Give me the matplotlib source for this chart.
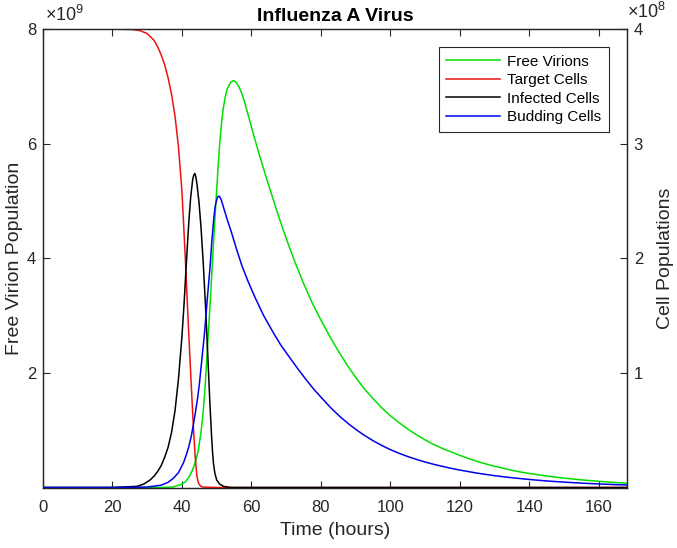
import matplotlib
matplotlib.use("Agg")
import matplotlib.pyplot as plt

plt.rcParams['font.family'] = ['Liberation Sans', 'DejaVu Sans']
plt.rcParams['mathtext.fontset'] = 'custom'
plt.rcParams['mathtext.rm'] = 'Liberation Sans'

# ---- data ----
# Free virions (units of 1e9), left axis
t_virions = [0, 20, 30, 35, 37.5, 40, 41, 42, 43, 43.6, 44.2, 44.7, 45.2, 45.6, 46,
             46.6, 47.2, 48.0, 48.7, 49.3, 49.8, 50.3, 50.8, 51.3, 51.8, 52.4, 53,
             54, 54.8, 55.6, 56.5, 57.3, 58, 59.6, 61, 62.4, 64, 65.5, 67.3, 69,
             71.1, 73, 75, 77.5, 80, 82.5, 85, 87.5, 90, 92.5, 95, 97.5, 100, 102.5,
             105, 107.5, 110, 112.5, 115, 117.5, 120, 122.5, 125, 127.5, 130, 132.5,
             135, 137.5, 140, 145, 150, 155, 160, 164, 168]
virions = [0, 0, 0.0, 0.002, 0.01, 0.06, 0.1, 0.18, 0.3, 0.4, 0.52, 0.65, 0.85, 1.03,
           1.25, 1.7, 2.3, 3.1, 3.85, 4.5, 5.0, 5.5, 5.95, 6.3, 6.58, 6.8, 6.95,
           7.07, 7.10, 7.07, 6.98, 6.86, 6.73, 6.38, 6.07, 5.78, 5.46, 5.17, 4.83,
           4.52, 4.16, 3.86, 3.56, 3.22, 2.92, 2.64, 2.38, 2.14, 1.92, 1.72, 1.55,
           1.39, 1.25, 1.13, 1.02, 0.92, 0.83, 0.75, 0.68, 0.62, 0.56, 0.505, 0.455,
           0.41, 0.37, 0.335, 0.30, 0.27, 0.245, 0.20, 0.163, 0.133, 0.108, 0.09,
           0.075]

# Target cells (units of 1e8), right axis
t_target = [0, 20, 26, 28, 30, 32, 33, 34, 35, 36, 37, 38, 39, 40, 40.9, 41.8, 42.5,
            43.3, 43.8, 44.3, 44.7, 45, 45.5, 46, 50, 168]
target = [4.0, 4.0, 3.995, 3.985, 3.96, 3.9, 3.845, 3.775, 3.69, 3.575, 3.43, 3.24,
          2.97, 2.58, 2.04, 1.44, 1.0, 0.52, 0.27, 0.1, 0.045, 0.025, 0.01, 0.004,
          0, 0]

# Infected cells (units of 1e8), right axis
t_infected = [0, 20, 27, 29, 30.8, 32, 33, 34, 35.1, 36, 37, 38, 39, 40, 40.6, 41.1,
              41.6, 42.0, 42.5, 43.1, 43.4, 43.7, 44.0, 44.3, 44.9, 45.5, 46.1, 46.8,
              47.4, 48.0, 48.5, 48.8, 49.1, 49.5, 50.0, 50.9, 52, 54, 168]
infected = [0, 0.0, 0.01, 0.03, 0.065, 0.10, 0.14, 0.19, 0.27, 0.35, 0.48, 0.67, 0.95,
            1.32, 1.6, 1.87, 2.13, 2.33, 2.53, 2.69, 2.725, 2.74, 2.71, 2.65, 2.49,
            2.26, 1.97, 1.57, 1.17, 0.76, 0.46, 0.31, 0.2, 0.12, 0.065, 0.028, 0.01,
            0, 0]

# Budding cells (units of 1e8), right axis
t_budding = [0, 20, 30, 34, 36, 37.5, 39, 40.5, 41.3, 42, 42.7, 43.3, 43.9, 44.5, 45,
             45.5, 46, 46.5, 47.3, 48.1, 48.6, 49.2, 49.6, 50.0, 50.4, 50.8, 51.3,
             52, 53, 54.3, 55.7, 57.2, 59, 61, 63.5, 66.3, 68.5, 71.1, 73, 75.5,
             78, 80.7, 83, 85.5, 88, 90.3, 92.5, 95, 97.5, 100, 102.5, 105, 107.5,
             110, 112.5, 115, 117.5, 120, 125, 130, 135, 140, 145, 150, 155, 160,
             164, 168]
budding = [0, 0, 0.004, 0.02, 0.045, 0.08, 0.13, 0.22, 0.29, 0.36, 0.45, 0.55, 0.66,
           0.78, 0.9, 1.05, 1.2, 1.35, 1.65, 1.93, 2.15, 2.36, 2.46, 2.51, 2.54, 2.54,
           2.51, 2.44, 2.34, 2.22, 2.08, 1.94, 1.80, 1.66, 1.50, 1.35, 1.24, 1.13,
           1.05, 0.95, 0.855, 0.765, 0.69, 0.618, 0.554, 0.501, 0.455, 0.408, 0.367,
           0.33, 0.298, 0.27, 0.245, 0.222, 0.202, 0.184, 0.167, 0.152, 0.125,
           0.103, 0.085, 0.07, 0.057, 0.047, 0.038, 0.031, 0.026, 0.022]

x_ticks = [0, 20, 40, 60, 80, 100, 120, 140, 160]
left_ticks = [2, 4, 6, 8]
right_ticks = [1, 2, 3, 4]

labels = ['Free Virions', 'Target Cells', 'Infected Cells', 'Budding Cells']
colors = ['#00e000', '#ee1111', '#000000', '#0000ee']

axcol = '#262626'

fig = plt.figure(figsize=(6.77, 5.48), dpi=100)
ax = fig.add_axes([0.0635, 0.1104, 0.8622, 0.8367])
ax2 = ax.twinx()

lw = 1.1
l1, = ax.plot(t_virions, [v * 1e9 for v in virions], color=colors[0], lw=lw)
l2, = ax2.plot(t_target, [c * 1e8 for c in target], color=colors[1], lw=lw)
l3, = ax2.plot(t_infected, [c * 1e8 for c in infected], color=colors[2], lw=lw)
l4, = ax2.plot(t_budding, [c * 1e8 for c in budding], color=colors[3], lw=lw)

ax.set_xlim(0, 168)
ax.set_ylim(0, 8e9)
ax2.set_ylim(0, 4e8)

ax.set_xticks(x_ticks)
ax.set_xticklabels([str(x) for x in x_ticks])
ax.set_yticks([v * 1e9 for v in left_ticks])
ax.set_yticklabels([str(v) for v in left_ticks])
ax2.set_yticks([v * 1e8 for v in right_ticks])
ax2.set_yticklabels([str(v) for v in right_ticks])

for a in (ax, ax2):
    for s in a.spines.values():
        s.set_color(axcol)
        s.set_linewidth(0.9)
ax.tick_params(axis='x', direction='in', length=5, width=0.8, colors=axcol,
               labelsize=12, top=True, pad=9)
ax.tick_params(axis='y', direction='in', length=5, width=0.8, colors=axcol,
               labelsize=12, pad=5)
ax2.tick_params(axis='y', direction='in', length=5, width=0.8, colors=axcol,
                labelsize=12, pad=5)

ax.set_xlabel('Time (hours)', fontsize=14, color=axcol, labelpad=5)
ax.set_ylabel('Free Virion Population', fontsize=14, color=axcol, labelpad=3)
ax2.set_ylabel('Cell Populations', fontsize=14, color=axcol, labelpad=10)
ax.set_title('Influenza A Virus', fontsize=14, fontweight='bold', pad=6)

fig.text(45 / 677, 1 - 25 / 548, r'$\times10^{9}$', ha='left', va='bottom',
         fontsize=13, color=axcol)
fig.text(627 / 677, 1 - 22 / 548, r'$\times10^{8}$', ha='left', va='bottom',
         fontsize=13, color=axcol)

leg = ax2.legend([l1, l2, l3, l4], labels, loc='upper right',
                 bbox_to_anchor=(0.970, 0.961), borderaxespad=0, fontsize=11,
                 fancybox=False, framealpha=1, edgecolor=axcol,
                 handlelength=3.5, handletextpad=0.5, labelspacing=0.3,
                 borderpad=0.5)
leg.get_frame().set_linewidth(0.8)

fig.savefig('out.png', dpi=100)
